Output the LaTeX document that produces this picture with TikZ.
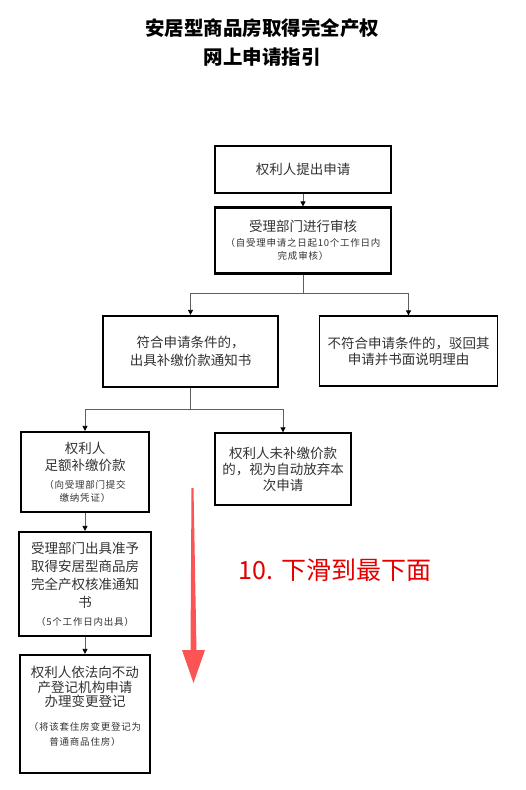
\documentclass[tikz,border=0pt]{standalone}
\usepackage{fontspec}
\newfontfamily\cjk{Noto Sans CJK SC}
\usetikzlibrary{arrows.meta}
\definecolor{linkgray}{RGB}{95,95,95}
\definecolor{textgray}{RGB}{50,50,50}
\definecolor{hintred}{RGB}{228,0,0}
\definecolor{arrowred}{RGB}{250,84,84}
\newcommand{\smallnote}[1]{{\fontsize{9.5}{12}\selectfont\addfontfeature{LetterSpace=8}#1}}

\begin{document}
\begin{tikzpicture}[
  x=1pt,y=-1pt,
  >={Triangle[length=5pt,width=5pt,color=black]},
  box/.style={draw=black,line width=1.3pt,align=center,text=textgray,
    inner sep=2pt,font=\cjk\fontsize{13.5}{18}\selectfont},
  heavy/.style={box,line width=2.2pt},
  link/.style={draw=linkgray,line width=0.8pt,->},
  every edge/.style={link}
]
\useasboundingbox (0,0) rectangle (525,790);

\node[font=\cjk\bfseries\fontsize{19.5}{29}\selectfont,align=center] (title) at (262,42)
 {安居型商品房取得完全产权\\网上申请指引};

\node[box,minimum width=176pt,minimum height=47pt] (apply) at (303,169.5)
 {权利人提出申请};
\node[heavy,minimum width=176pt,minimum height=66pt] (review) at (303,240.5)
 {受理部门进行审核\\[-3pt]
 \smallnote{（自受理申请之日起10个工作日内}\\[-5pt]
 \smallnote{完成审核）}};

\node[heavy,minimum width=175pt,minimum height=71pt] (ok) at (190.5,351.5)
 {符合申请条件的，\\出具补缴价款通知书};
\node[box,minimum width=178pt,minimum height=70pt] (refuse) at (408.5,351)
 {不符合申请条件的，驳回其\\[-2pt]申请并书面说明理由};

\node[heavy,minimum width=128pt,minimum height=80pt] (pay) at (85,472)
 {权利人\\[-1pt]足额补缴价款\\
 \smallnote{（向受理部门提交}\\[-5pt]
 \smallnote{缴纳凭证）}};
\node[box,minimum width=136pt,minimum height=72pt] (giveup) at (283,469)
 {权利人未补缴价款\\[-2pt]的，视为自动放弃本\\[-2pt]次申请};

\node[heavy,minimum width=132pt,minimum height=104pt] (notice) at (85,584)
 {受理部门出具准予\\取得安居型商品房\\完全产权核准通知\\书\\
 \smallnote{（5个工作日内出具）}};
\node[heavy,minimum width=130pt,minimum height=118pt] (register) at (85,714)
 {权利人依法向不动\\[-3pt]产登记机构申请\\[-4pt]办理变更登记\\[6pt]
 \smallnote{（将该套住房变更登记为}\\[-3pt]
 \smallnote{普通商品住房）}\\[-2pt]\mbox{}};

\node[text=hintred,font=\cjk\fontsize{25}{30}\selectfont] (hint) at (335,570)
 {10. 下滑到最下面};

% connectors
\path (apply) edge (review)
      (pay) edge (notice)
      (notice) edge (register);
\draw[link] (review.south) -- ++(0,-19pt) -| (ok.north);
\draw[link] (review.south) -- ++(0,-19pt) -| (refuse.north);
\draw[link] (ok.south) -- ++(0,-21pt) -| (pay.north);
\draw[link] (ok.south) -- ++(0,-21pt) -| (giveup.north);

% scroll arrow
\fill[arrowred] (191.5,488) -- (193.5,488) -- (196.5,650) -- (205,650)
  -- (193.5,683) -- (182,650) -- (190.5,650) -- cycle;
\end{tikzpicture}
\end{document}
